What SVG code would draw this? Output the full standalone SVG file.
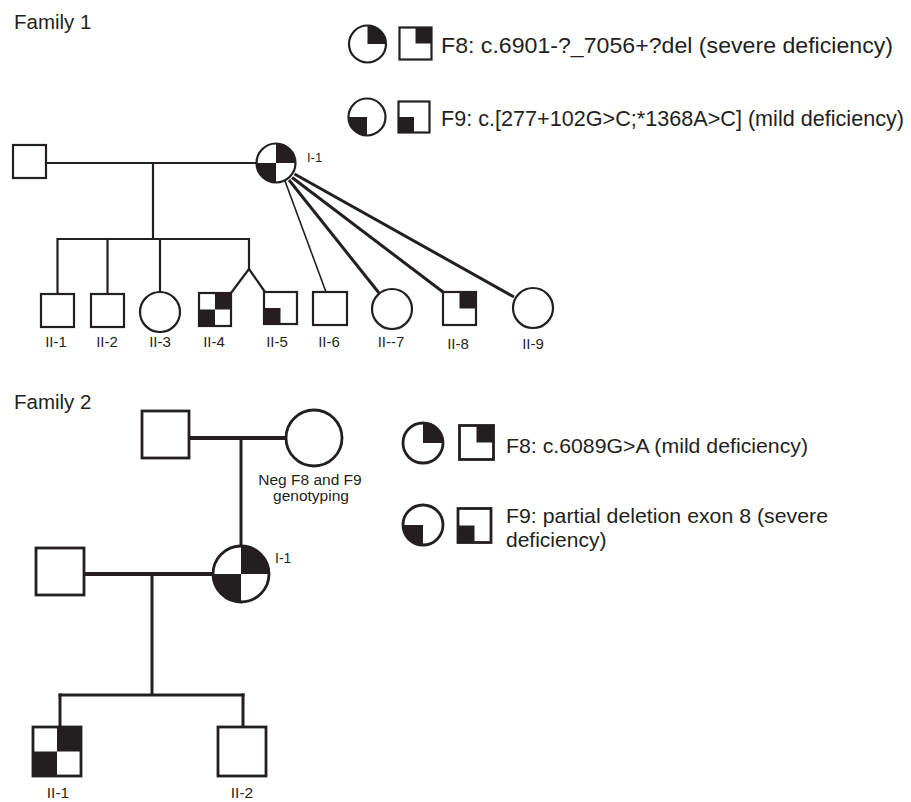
<svg xmlns="http://www.w3.org/2000/svg" width="911" height="802" viewBox="0 0 911 802">
<style>
  .bg{fill:#fff}
  .n1{fill:#fff;stroke:#231f20;stroke-width:2.2}
  .n2{fill:#fff;stroke:#231f20;stroke-width:2.8}
  .q{fill:#231f20;stroke:none}
  .l1{stroke:#231f20;stroke-width:2.2;fill:none}
  .l1t{stroke:#231f20;stroke-width:1.6;fill:none}
  .l1b{stroke:#231f20;stroke-width:3;fill:none}
  .l2{stroke:#231f20;stroke-width:3;fill:none}
  .l2b{stroke:#231f20;stroke-width:4;fill:none}
  text{font-family:"Liberation Sans",Arial,sans-serif;fill:#231f20}
  .fam{font-size:20.5px}
  .leg1{font-size:22px}
  .leg2{font-size:21px}
  .lab{font-size:15px;text-anchor:middle}
  .lab2{font-size:15.5px;text-anchor:middle}
  .i1{font-size:13px}
  .neg{font-size:15.5px;text-anchor:middle}
</style>
<rect class="bg" x="0" y="0" width="911" height="802"/>

<text class="fam" x="14" y="29">Family 1</text>

<g id="legend1">
  <g id="leg1-f8">
    <circle class="n1" cx="367.5" cy="44" r="18.5"/>
    <path class="q" d="M367.5,44 L367.5,25.5 A18.5,18.5 0 0 1 386,44 Z"/>
    <rect class="n1" x="399.5" y="27.5" width="32" height="32"/>
    <rect class="q" x="415.5" y="27.5" width="16" height="16"/>
    <text class="leg1" x="441" y="53" textLength="452" lengthAdjust="spacingAndGlyphs">F8: c.6901-?_7056+?del (severe deficiency)</text>
  </g>
  <g id="leg1-f9">
    <circle class="n1" cx="367" cy="117" r="18.5"/>
    <path class="q" d="M367,117 L367,135.5 A18.5,18.5 0 0 1 348.5,117 Z"/>
    <rect class="n1" x="398.5" y="101.5" width="31" height="31"/>
    <rect class="q" x="398.5" y="117" width="15.5" height="15.5"/>
    <text class="leg1" x="441" y="126" textLength="463" lengthAdjust="spacingAndGlyphs">F9: c.[277+102G&gt;C;*1368A&gt;C] (mild deficiency)</text>
  </g>
</g>

<g id="connectors1">
  <line class="l1" x1="46" y1="163" x2="257" y2="163"/>
  <line class="l1" x1="153" y1="163" x2="153" y2="239"/>
  <line class="l1" x1="57.5" y1="239" x2="249" y2="239"/>
  <line class="l1" x1="57.5" y1="238" x2="57.5" y2="294"/>
  <line class="l1" x1="107.5" y1="238" x2="107.5" y2="294"/>
  <line class="l1" x1="160" y1="238" x2="160" y2="292"/>
  <line class="l1" x1="249" y1="238" x2="249" y2="269"/>
  <line class="l1" x1="249" y1="269" x2="231" y2="293"/>
  <line class="l1" x1="249" y1="269" x2="265" y2="292"/>
  <line class="l1t" x1="285" y1="181" x2="326" y2="292"/>
  <line class="l1b" x1="289" y1="180" x2="379" y2="293"/>
  <line class="l1b" x1="292" y1="177.5" x2="443" y2="292"/>
  <line class="l1b" x1="294.5" y1="174" x2="514" y2="297"/>
</g>

<g id="f1-father">
  <rect class="n1" x="13" y="145" width="33" height="33"/>
</g>
<g id="f1-I-1">
  <circle class="n1" cx="276" cy="163" r="19.5"/>
  <path class="q" d="M276,163 L276,143.5 A19.5,19.5 0 0 1 295.5,163 Z"/>
  <path class="q" d="M276,163 L276,182.5 A19.5,19.5 0 0 1 256.5,163 Z"/>
  <text class="i1" x="307" y="162">I-1</text>
</g>
<g id="f1-II-1">
  <rect class="n1" x="41" y="294" width="33" height="33"/>
  <text class="lab" x="56" y="347">II-1</text>
</g>
<g id="f1-II-2">
  <rect class="n1" x="91" y="294" width="33" height="33"/>
  <text class="lab" x="107" y="347">II-2</text>
</g>
<g id="f1-II-3">
  <circle class="n1" cx="160" cy="312" r="20"/>
  <text class="lab" x="160" y="347">II-3</text>
</g>
<g id="f1-II-4">
  <rect class="n1" x="199" y="293" width="32" height="33"/>
  <rect class="q" x="215" y="293" width="16" height="16.5"/>
  <rect class="q" x="199" y="309.5" width="16" height="16.5"/>
  <text class="lab" x="214" y="347">II-4</text>
</g>
<g id="f1-II-5">
  <rect class="n1" x="264" y="292" width="33" height="32"/>
  <rect class="q" x="264" y="308" width="16.5" height="16"/>
  <text class="lab" x="277" y="347">II-5</text>
</g>
<g id="f1-II-6">
  <rect class="n1" x="313" y="292" width="34" height="33"/>
  <text class="lab" x="329" y="347">II-6</text>
</g>
<g id="f1-II-7">
  <circle class="n1" cx="392" cy="309" r="20"/>
  <text class="lab" x="391" y="347">II--7</text>
</g>
<g id="f1-II-8">
  <rect class="n1" x="443" y="292" width="33" height="33"/>
  <rect class="q" x="459.5" y="292" width="16.5" height="16.5"/>
  <text class="lab" x="458" y="349">II-8</text>
</g>
<g id="f1-II-9">
  <circle class="n1" cx="533" cy="308" r="20"/>
  <text class="lab" x="533" y="349">II-9</text>
</g>

<text class="fam" x="14" y="409">Family 2</text>

<g id="legend2">
  <g id="leg2-f8">
    <circle class="n2" cx="423" cy="443" r="20"/>
    <path class="q" d="M423,443 L423,423 A20,20 0 0 1 443,443 Z"/>
    <rect class="n2" x="459.5" y="425.5" width="34" height="34"/>
    <rect class="q" x="476.5" y="425.5" width="17" height="17"/>
    <text class="leg2" x="506" y="453" textLength="302" lengthAdjust="spacingAndGlyphs">F8: c.6089G&gt;A (mild deficiency)</text>
  </g>
  <g id="leg2-f9">
    <circle class="n2" cx="423" cy="525" r="20"/>
    <path class="q" d="M423,525 L423,545 A20,20 0 0 1 403,525 Z"/>
    <rect class="n2" x="458" y="508.5" width="33" height="34"/>
    <rect class="q" x="458" y="525.5" width="16.5" height="17"/>
    <text class="leg2" x="506" y="523" textLength="322" lengthAdjust="spacingAndGlyphs">F9: partial deletion exon 8 (severe</text>
    <text class="leg2" x="506" y="547">deficiency)</text>
  </g>
</g>

<g id="connectors2">
  <line class="l2b" x1="189" y1="438" x2="286" y2="438"/>
  <line class="l2" x1="241" y1="438" x2="241" y2="546"/>
  <line class="l2b" x1="84" y1="574" x2="213" y2="574"/>
  <line class="l2" x1="152" y1="574" x2="152" y2="695"/>
  <line class="l2" x1="58.5" y1="695" x2="244.5" y2="695"/>
  <line class="l2" x1="60" y1="693.5" x2="60" y2="727"/>
  <line class="l2" x1="243" y1="693.5" x2="243" y2="727"/>
</g>

<g id="f2-grandfather">
  <rect class="n2" x="142" y="411" width="47" height="47"/>
</g>
<g id="f2-grandmother">
  <circle class="n2" cx="314" cy="438" r="28"/>
  <text class="neg" x="310" y="485">Neg F8 and F9</text>
  <text class="neg" x="311" y="501">genotyping</text>
</g>
<g id="f2-father">
  <rect class="n2" x="36" y="548" width="48" height="47"/>
</g>
<g id="f2-I-1">
  <circle class="n2" cx="241" cy="574" r="28"/>
  <path class="q" d="M241,574 L241,546 A28,28 0 0 1 269,574 Z"/>
  <path class="q" d="M241,574 L241,602 A28,28 0 0 1 213,574 Z"/>
  <text class="i1" x="275" y="563" style="font-size:14px">I-1</text>
</g>
<g id="f2-II-1">
  <rect class="n2" x="33" y="727" width="48" height="49"/>
  <rect class="q" x="57" y="727" width="24" height="24.5"/>
  <rect class="q" x="33" y="751.5" width="24" height="24.5"/>
  <text class="lab2" x="58" y="798">II-1</text>
</g>
<g id="f2-II-2">
  <rect class="n2" x="218" y="727" width="48" height="49"/>
  <text class="lab2" x="242" y="798">II-2</text>
</g>
</svg>
